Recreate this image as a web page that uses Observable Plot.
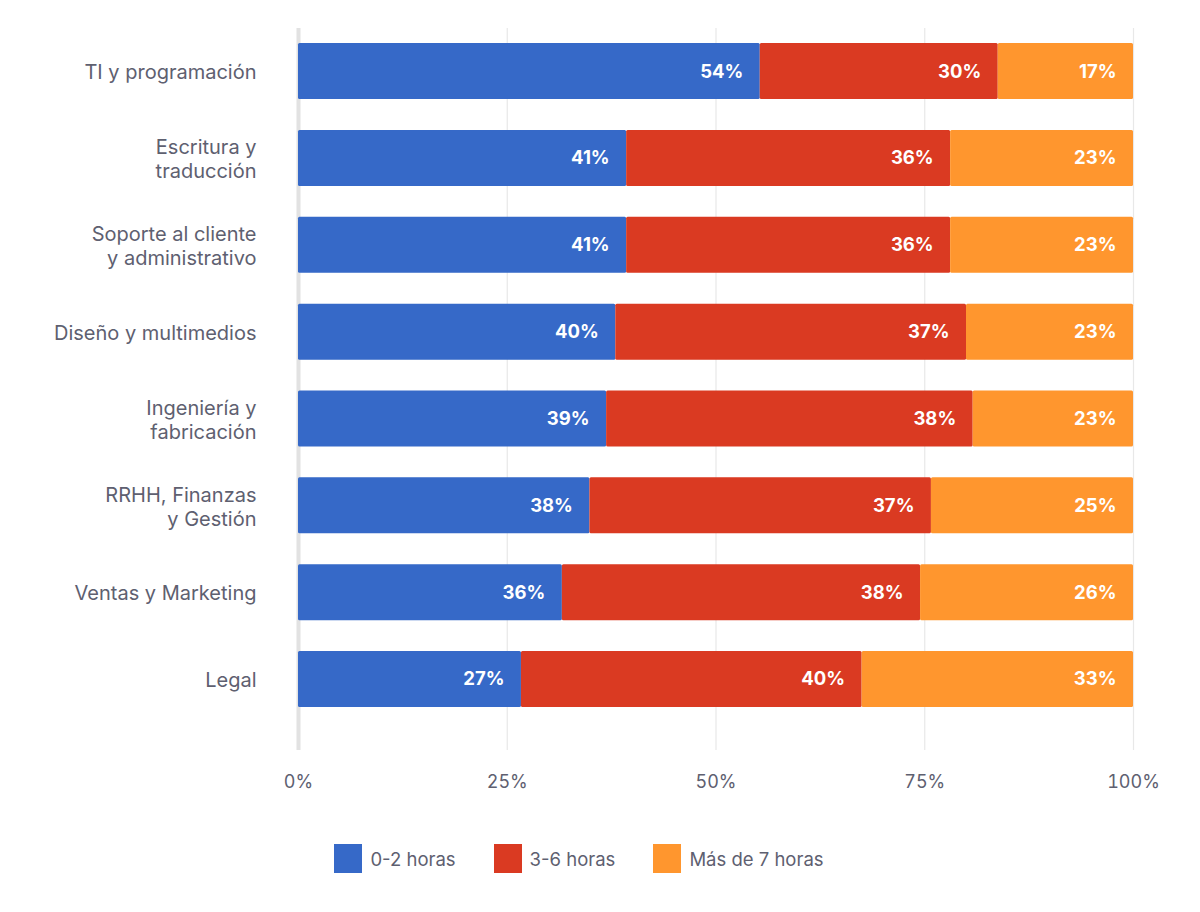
<!DOCTYPE html>
<html>
<head>
<meta charset="utf-8">
<script src="https://cdn.jsdelivr.net/npm/d3@7"></script>
<script src="https://cdn.jsdelivr.net/npm/@observablehq/plot@0.6"></script>
<style>
  html, body { margin: 0; padding: 0; background: #fff; }
  body { font-family: Inter, "Noto Sans", sans-serif; width: 1200px; }
  #legend { display: flex; justify-content: center; align-items: center; margin-top: 24px; padding-right: 42px;
            font-size: 18.5px; color: #5e6070; }
  .item { display: flex; align-items: center; margin: 0 19px; }
  .sw { width: 28px; height: 29px; margin-right: 8px; }
</style>
</head>
<body>
<div id="chart"></div>
<div id="legend"></div>
<script>
const categories = [
  "TI y programación",
  "Escritura y\ntraducción",
  "Soporte al cliente\ny administrativo",
  "Diseño y multimedios",
  "Ingeniería y\nfabricación",
  "RRHH, Finanzas\ny Gestión",
  "Ventas y Marketing",
  "Legal"
];
const series = ["0-2 horas", "3-6 horas", "Más de 7 horas"];
const colors = ["#3669C8", "#DA3A22", "#FF962E"];
// segment widths as drawn (share of bar, %)
const low  = [55.3, 39.3, 39.3, 38.0, 36.9, 34.9, 31.6, 26.7];
const mid  = [28.5, 38.8, 38.8, 42.0, 43.9, 40.9, 42.9, 40.8];
const high = [16.2, 21.9, 21.9, 20.0, 19.2, 24.2, 25.5, 32.5];
// printed percentage labels
const lowLabel  = [54, 41, 41, 40, 39, 38, 36, 27];
const midLabel  = [30, 36, 36, 37, 38, 37, 38, 40];
const highLabel = [17, 23, 23, 23, 23, 25, 26, 33];
const xTicks = [0, 25, 50, 75, 100];

const values = [low, mid, high];
const labels = [lowLabel, midLabel, highLabel];
const data = [];
categories.forEach((c, i) => {
  series.forEach((s, j) => {
    data.push({cat: c, series: s, value: values[j][i], label: labels[j][i] + "%"});
  });
});

const chart = Plot.plot({
  width: 1200,
  height: 820,
  marginLeft: 298,
  marginRight: 67,
  marginTop: 28,
  marginBottom: 70,
  style: {fontFamily: "Inter, 'Noto Sans', sans-serif", fontSize: "18px", color: "#5e6070", background: "#fff"},
  x: {domain: [0, 100], label: null},
  y: {domain: categories, label: null, paddingInner: 0.355, paddingOuter: 0.334, align: 0.26, round: false},
  color: {domain: series, range: colors},
  marks: [
    Plot.ruleX(xTicks.slice(1), {stroke: "#e8e8e8", strokeWidth: 1.2}),
    Plot.ruleX([0], {stroke: "#e2e2e2", strokeWidth: 4}),
    Plot.barX(data, {x: "value", y: "cat", fill: "series", z: "series", rx: 1.5}),
    Plot.text(data, Plot.stackX2({
      x: "value", y: "cat", z: "series", text: "label",
      textAnchor: "end", dx: -17, fill: "white", fontWeight: 700, fontSize: 18.5
    })),
    Plot.axisY({tickSize: 0, tickPadding: 42, fontSize: 20, lineHeight: 1.2, fill: "#5e6070"}),
    Plot.axisX({ticks: xTicks, tickFormat: d => d + "%", tickSize: 0, tickPadding: 25, fontSize: 18, fill: "#5e6070"})
  ]
});
document.getElementById("chart").appendChild(chart);

const legend = document.getElementById("legend");
series.forEach((s, i) => {
  const it = document.createElement("div");
  it.className = "item";
  const sw = document.createElement("div");
  sw.className = "sw";
  sw.style.background = colors[i];
  const t = document.createElement("span");
  t.textContent = s;
  it.appendChild(sw);
  it.appendChild(t);
  legend.appendChild(it);
});
</script>
</body>
</html>
